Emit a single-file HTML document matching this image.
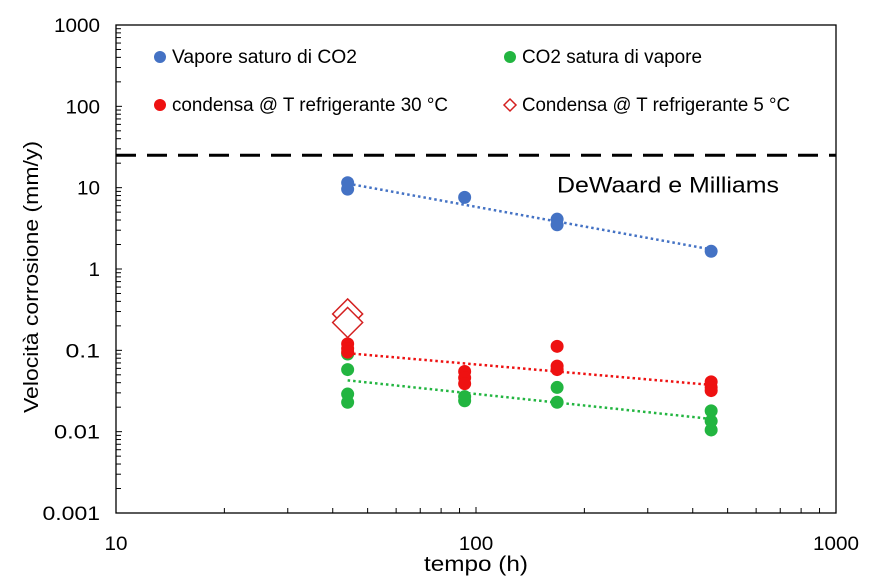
<!DOCTYPE html>
<html><head><meta charset="utf-8"><style>
body{margin:0;background:#fff;width:870px;height:579px;overflow:hidden}
svg text{font-family:"Liberation Sans",sans-serif;fill:#000}
</style></head><body>
<svg id="chart" width="870" height="579" viewBox="0 0 870 579"></svg>
<script>
const xTicks=[10,100,1000];
const yTicks=[0.001,0.01,0.1,1,10,100,1000];
const yTickLabels=["0.001","0.01","0.1","1","10","100","1000"];
const blueT=[44,44,93,168,168,450];
const blueV=[11.5,9.6,7.6,4.1,3.5,1.65];
const redT=[44,44,44,93,93,93,168,168,168,450,450,450];
const redV=[0.12,0.105,0.095,0.055,0.046,0.039,0.112,0.064,0.058,0.041,0.035,0.032];
const greenT=[44,44,44,44,93,93,168,168,450,450,450];
const greenV=[0.09,0.058,0.029,0.023,0.027,0.024,0.035,0.023,0.018,0.0135,0.0105];
const diamondT=[44,44];
const diamondV=[0.28,0.22];
const dewaardV=25;

const L=116,R=836,T=25,B=513;
const X=t=>L+(Math.log10(t)-1)/2*(R-L);
const Y=v=>B-(Math.log10(v)+3)/6*(B-T);
const NS="http://www.w3.org/2000/svg";
const svg=document.getElementById('chart');
function mk(tag,attrs,parent){const e=document.createElementNS(NS,tag);for(const k in attrs)e.setAttribute(k,attrs[k]);(parent||svg).appendChild(e);return e;}

let fr=mk('rect',{x:L,y:T,width:R-L,height:B-T,fill:'none',stroke:'#000','stroke-width':1.3});


for(let d=-3;d<3;d++){for(let m=1;m<10;m++){const v=m*Math.pow(10,d);const y=Y(v);
 let t=mk('line',{x1:L,x2:L+(m==1?6:5),y1:y,y2:y,stroke:'#000','stroke-width':1});
 
 }}
yTicks.forEach((v,i)=>{let t=mk('text',{x:L-16,y:Y(v)+7,'text-anchor':'end','font-size':19,textLength:(yTickLabels[i].length*11.5),lengthAdjust:'spacingAndGlyphs'});t.textContent=yTickLabels[i];
 
 });
for(let d=1;d<3;d++){for(let m=1;m<10;m++){const x=X(m*Math.pow(10,d));
 let t=mk('line',{x1:x,x2:x,y1:B,y2:B-(m==1?6:5),stroke:'#000','stroke-width':1});
 
 }}
xTicks.forEach(v=>{let t=mk('text',{x:X(v),y:B+37,'text-anchor':'middle','font-size':19,textLength:(String(v).length*11.5),lengthAdjust:'spacingAndGlyphs'});t.textContent=v;
 
 });
let xt=mk('text',{x:X(100),y:B+58,'text-anchor':'middle','font-size':21,textLength:104,lengthAdjust:'spacingAndGlyphs'});xt.textContent='tempo (h)';


let yt=mk('text',{x:0,y:0,'text-anchor':'middle','font-size':20,textLength:272,lengthAdjust:'spacingAndGlyphs',transform:`translate(38,${(T+B)/2+8}) rotate(-90)`});yt.textContent='Velocità corrosione (mm/y)';



let dl=mk('line',{x1:L,x2:R,y1:Y(dewaardV),y2:Y(dewaardV),stroke:'#000','stroke-width':3,'stroke-dasharray':'20 11'});


let dt=mk('text',{x:557,y:Y(dewaardV)+37,'font-size':22,textLength:222,lengthAdjust:'spacingAndGlyphs'});dt.textContent='DeWaard e Milliams';



function fit(ts,vs){const n=ts.length;let sx=0,sy=0,sxx=0,sxy=0;ts.forEach((t,i)=>{const a=Math.log10(t),b=Math.log10(vs[i]);sx+=a;sy+=b;sxx+=a*a;sxy+=a*b;});
 const k=(n*sxy-sx*sy)/(n*sxx-sx*sx);const c=(sy-k*sx)/n;return t=>Math.pow(10,c+k*Math.log10(t));}
function series(ts,vs,color,name){
 const f=fit(ts,vs);const t0=Math.min(...ts),t1=Math.max(...ts);
 let ln=mk('line',{x1:X(t0),y1:Y(f(t0)),x2:X(t1),y2:Y(f(t1)),stroke:color,'stroke-width':2.5,'stroke-dasharray':'2.5 3'});
 
 
 ts.forEach((t,i)=>{let c=mk('circle',{cx:X(t),cy:Y(vs[i]),r:6.5,fill:color});
  
  });
}
series(greenT,greenV,'#22b540','green');
series(redT,redV,'#ee1111','red');
series(blueT,blueV,'#4472c4','blue');
diamondT.forEach((t,i)=>{const x=X(t),y=Y(diamondV[i]);
 let d=mk('polygon',{points:`${x},${y-15} ${x+15},${y} ${x},${y+15} ${x-15},${y}`,fill:'#fff',stroke:'#d42020','stroke-width':1.5});
 
 });

const leg=[[160,57,'#4472c4','c','Vapore saturo di CO2',185],[510,57,'#22b540','c','CO2 satura di vapore',180],[160,105,'#ee1111','c','condensa @ T refrigerante 30 °C',276],[510,105,'#d42020','d','Condensa @ T refrigerante 5 °C',268]];
leg.forEach(([x,y,c,s,txt,w])=>{
 if(s=='c'){let m=mk('circle',{cx:x,cy:y,r:6,fill:c});}
 else{let m=mk('polygon',{points:`${x},${y-6} ${x+6},${y} ${x},${y+6} ${x-6},${y}`,fill:'#fff',stroke:c,'stroke-width':1.5});}
 let t=mk('text',{x:x+12,y:y+6,'font-size':19,textLength:w,lengthAdjust:'spacingAndGlyphs'});t.textContent=txt;
 
 
});
</script>
</body></html>
